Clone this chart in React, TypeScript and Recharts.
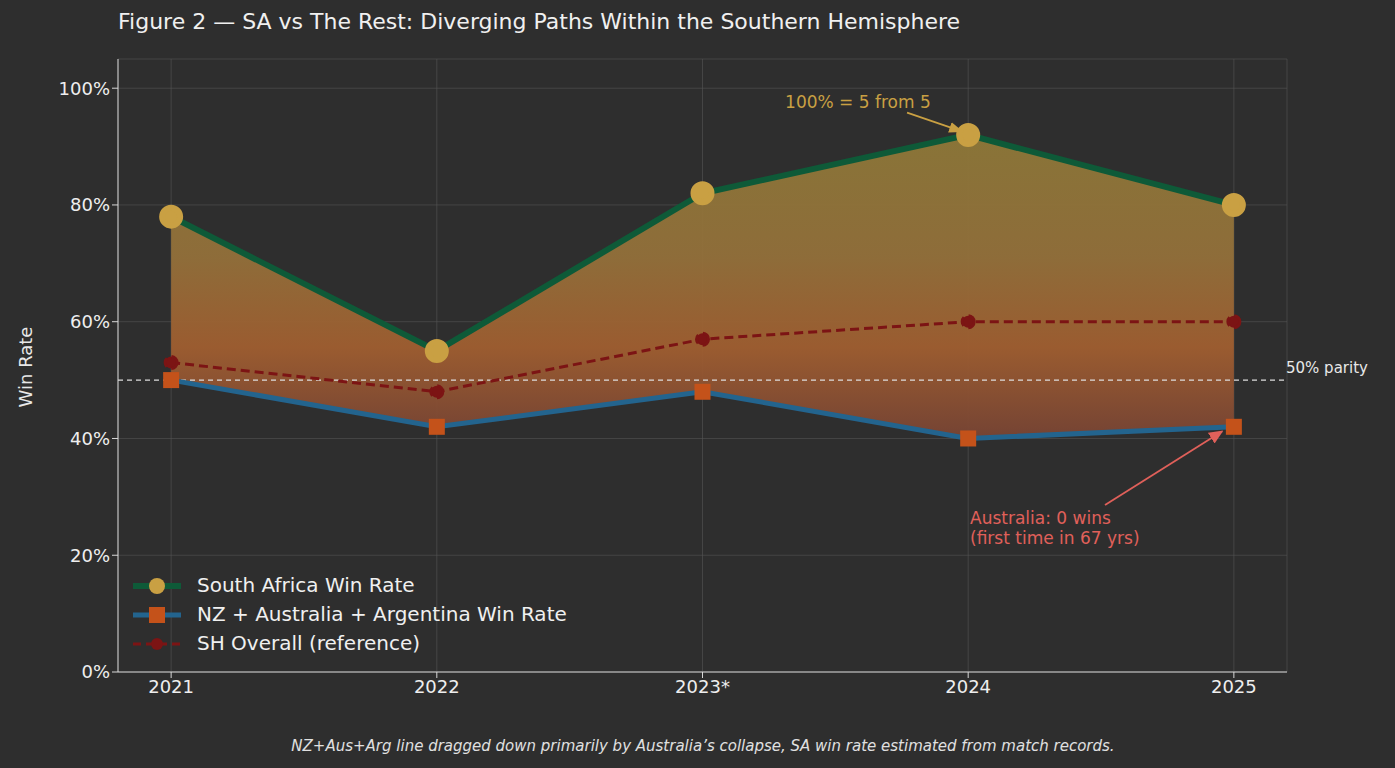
import { ComposedChart, Line, Area, XAxis, YAxis, CartesianGrid, ReferenceLine, ReferenceDot } from 'recharts';

const years = ['2021', '2022', '2023*', '2024', '2025'];
const saWinRate = [78, 55, 82, 92, 80];
const restWinRate = [50, 42, 48, 40, 42];
const shOverall = [53, 48, 57, 60, 60];
const yTicks = [0, 20, 40, 60, 80, 100];

const data = years.map((y, i) => ({
    x: i,
    sa: saWinRate[i],
    rest: restWinRate[i],
    sh: shOverall[i],
    band: [restWinRate[i], saWinRate[i]],
}));

const BG = '#2e2e2e';
const GOLD = '#c9a043';
const GREEN = '#0e5a38';
const BLUE = '#23648e';
const ORANGE = '#c4521a';
const DARKRED = '#7c1414';
const ANNO_RED = '#e0605a';
const FONT = '"DejaVu Sans", sans-serif';

// eslint-disable-next-line @typescript-eslint/no-explicit-any
const SquareDot = (props: any) => {
    const { cx, cy } = props;
    return <rect x={cx - 8} y={cy - 8} width={16} height={16} fill={ORANGE} />;
};

// eslint-disable-next-line @typescript-eslint/no-explicit-any
const arrowShape = (color: string, id: string) => (props: any) => {
    const { x1, y1, x2, y2 } = props;
    return <line x1={x1} y1={y1} x2={x2} y2={y2} stroke={color} strokeWidth={1.8} markerEnd={`url(#${id})`} />;
};

export default function App() {
    return (
        <div style={{ position: 'absolute', left: 0, top: 0, width: 1395, height: 768, background: BG, fontFamily: FONT, overflow: 'hidden' }}>
            <div style={{ position: 'absolute', left: 118, top: 9, fontSize: 22, color: '#f0f0f0', whiteSpace: 'nowrap' }}>
                Figure 2 — SA vs The Rest: Diverging Paths Within the Southern Hemisphere
            </div>
            <div style={{ position: 'absolute', left: 25, top: 367, transform: 'translate(-50%, -50%) rotate(-90deg)', fontSize: 18, color: '#e8e8e8', whiteSpace: 'nowrap' }}>
                Win Rate
            </div>
            <ComposedChart width={1395} height={768} data={data} margin={{ top: 59, right: 108, bottom: 66, left: 0 }} style={{ fontFamily: FONT }}>
                <defs>
                    <linearGradient id="bandFill" x1="0" y1="0" x2="0" y2="1">
                        <stop offset="0%" stopColor="#8e7838" />
                        <stop offset="40%" stopColor="#93703a" />
                        <stop offset="70%" stopColor="#a05e30" />
                        <stop offset="100%" stopColor="#784434" />
                    </linearGradient>
                    <marker id="goldHead" markerWidth="8" markerHeight="8" refX="7" refY="4" orient="auto">
                        <path d="M0,1 L8,4 L0,7 z" fill={GOLD} />
                    </marker>
                    <marker id="redHead" markerWidth="8" markerHeight="8" refX="7" refY="4" orient="auto">
                        <path d="M0,0.5 L8,4 L0,7.5 z" fill={ANNO_RED} />
                    </marker>
                </defs>
                <CartesianGrid stroke="#555" strokeOpacity={0.6} />
                <XAxis
                    dataKey="x"
                    type="number"
                    domain={[-0.2, 4.2]}
                    ticks={[0, 1, 2, 3, 4]}
                    tickFormatter={(v) => years[v]}
                    height={30}
                    stroke="#d8d8d8"
                    tick={{ fill: '#eeeeee', fontSize: 18 }}
                />
                <YAxis
                    width={118}
                    domain={[0, 105]}
                    ticks={yTicks}
                    tickFormatter={(v) => `${v}%`}
                    stroke="#d8d8d8"
                    tick={{ fill: '#eeeeee', fontSize: 18 }}
                />
                <Area dataKey="band" stroke="none" fill="url(#bandFill)" fillOpacity={0.95} isAnimationActive={false} activeDot={false} />
                <ReferenceLine y={50} stroke="#dddddd" strokeDasharray="5 4" strokeWidth={1.3}
                    label={{ value: '50% parity', position: 'right', fill: '#e8e8e8', fontSize: 15, dx: -6, dy: -12 }} />
                <Line dataKey="rest" stroke={BLUE} strokeWidth={5} dot={<SquareDot />} isAnimationActive={false} />
                <Line dataKey="sh" stroke={DARKRED} strokeWidth={3} strokeDasharray="9 5" dot={{ r: 6, fill: DARKRED, stroke: DARKRED }} isAnimationActive={false} />
                <Line dataKey="sa" stroke={GREEN} strokeWidth={6} dot={{ r: 9, fill: GOLD, stroke: GOLD }} isAnimationActive={false} />
                <ReferenceLine segment={[{ x: 2.77, y: 95.8 }, { x: 2.976, y: 92.6 }]} shape={arrowShape(GOLD, 'goldHead')} />
                <ReferenceLine segment={[{ x: 3.515, y: 28.6 }, { x: 3.955, y: 41.2 }]} shape={arrowShape(ANNO_RED, 'redHead')} />
                <ReferenceDot x={2.585} y={97.6} r={0} stroke="none"
                    label={{ value: '100% = 5 from 5', fill: GOLD, fontSize: 17, position: 'center' }} />
                <ReferenceDot x={3.007} y={26.4} r={0} stroke="none"
                    label={{ value: 'Australia: 0 wins', fill: ANNO_RED, fontSize: 17, position: 'right', offset: 0 }} />
                <ReferenceDot x={3.007} y={22.9} r={0} stroke="none"
                    label={{ value: '(first time in 67 yrs)', fill: ANNO_RED, fontSize: 17, position: 'right', offset: 0 }} />
            </ComposedChart>
            <div style={{ position: 'absolute', left: 133, top: 571, color: '#f0f0f0', fontSize: 20, lineHeight: '29px' }}>
                {[
                    { label: 'South Africa Win Rate', line: GREEN, mark: <circle cx={24} cy={12} r={8} fill={GOLD} />, dash: undefined, w: 6 },
                    { label: 'NZ + Australia + Argentina Win Rate', line: BLUE, mark: <rect x={16} y={4} width={16} height={16} fill={ORANGE} />, dash: undefined, w: 5 },
                    { label: 'SH Overall (reference)', line: DARKRED, mark: <circle cx={24} cy={12} r={6} fill={DARKRED} />, dash: '8 5', w: 3 },
                ].map((e, i) => (
                    <div key={`legend-${i}`} style={{ display: 'flex', alignItems: 'center', gap: 16 }}>
                        <svg width={48} height={24}>
                            <line x1={0} y1={12} x2={48} y2={12} stroke={e.line} strokeWidth={e.w} strokeDasharray={e.dash} />
                            {e.mark}
                        </svg>
                        <span>{e.label}</span>
                    </div>
                ))}
            </div>
            <div style={{ position: 'absolute', left: 0, width: 1406, top: 737, textAlign: 'center', fontStyle: 'italic', fontSize: 15, color: '#e0e0e0', whiteSpace: 'nowrap' }}>
                NZ+Aus+Arg line dragged down primarily by Australia’s collapse, SA win rate estimated from match records.
            </div>
        </div>
    );
}
